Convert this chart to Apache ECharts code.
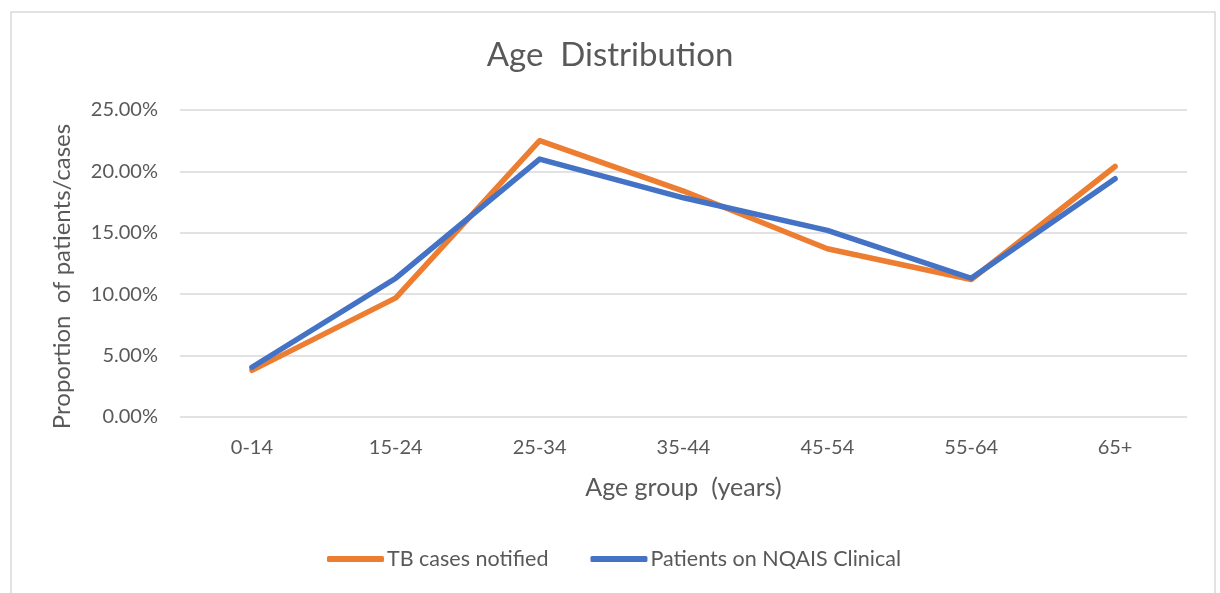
<!DOCTYPE html>
<html>
<head>
<meta charset="utf-8">
<script src="https://cdn.jsdelivr.net/npm/echarts@6/dist/echarts.min.js"></script>
<style>
  html, body { margin: 0; padding: 0; background: #fff; }
  #ageChart { width: 1220px; height: 593px; }
</style>
</head>
<body>
<div id="ageChart"></div>
<script>
  // 年龄组
  var ageGroups = ['0-14', '15-24', '25-34', '35-44', '45-54', '55-64', '65+'];
  // 占比 (%)
  var tbCases = [3.8, 9.7, 22.5, 18.4, 13.7, 11.2, 20.4];
  var nqaisPatients = [4.05, 11.3, 21.0, 17.85, 15.2, 11.3, 19.4];
  var yTicks = [0, 5, 10, 15, 20, 25];

  var myChart = echarts.init(document.getElementById('ageChart'));
  var fontName = 'Lato';
  var option = {
    backgroundColor: '#fff',
    animation: false,
    color: ['#ED7D31', '#4472C4'],
    title: {
      text: 'Age  Distribution',
      left: 'center',
      top: 34,
      textStyle: { color: '#595959', fontSize: 33, fontWeight: 'normal', fontFamily: fontName }
    },
    graphic: [{
      type: 'rect',
      shape: { x: 11, y: 12, width: 1204, height: 620 },
      style: { fill: 'none', stroke: '#d9d9d9', lineWidth: 1.5 },
      silent: true
    }],
    legend: {
      data: ['TB cases notified', 'Patients on NQAIS Clinical'],
      bottom: 18,
      left: 322,
      icon: 'roundRect',
      itemWidth: 57,
      itemHeight: 6,
      itemGap: 42,
      textStyle: { color: '#595959', fontSize: 21.5, fontFamily: fontName, padding: [0, 0, 0, -2] }
    },
    grid: { left: 180, right: 33, top: 110, bottom: 176 },
    xAxis: {
      type: 'category',
      data: ageGroups,
      name: 'Age group  (years)',
      nameLocation: 'middle',
      nameGap: 58,
      nameTextStyle: { color: '#595959', fontSize: 25, fontFamily: fontName },
      axisLine: { show: false },
      axisTick: { show: false },
      axisLabel: { color: '#595959', fontSize: 20, fontFamily: fontName, margin: 21 }
    },
    yAxis: {
      type: 'value',
      min: yTicks[0],
      max: yTicks[yTicks.length - 1],
      interval: 5,
      name: 'Proportion  of patients/cases',
      nameLocation: 'middle',
      nameGap: 106,
      nameTextStyle: { color: '#595959', fontSize: 24, fontFamily: fontName, padding: [0, 26, 0, 0] },
      axisLine: { show: false },
      axisTick: { show: false },
      axisLabel: {
        color: '#595959', fontSize: 20, fontFamily: fontName, margin: 22,
        formatter: function (v) { return v.toFixed(2) + '%'; }
      },
      splitLine: { show: true, lineStyle: { color: '#d9d9d9', width: 1.5 } }
    },
    series: [
      {
        name: 'TB cases notified',
        type: 'line',
        data: tbCases,
        symbol: 'none',
        lineStyle: { width: 5.5, cap: 'round', join: 'round' }
      },
      {
        name: 'Patients on NQAIS Clinical',
        type: 'line',
        data: nqaisPatients,
        symbol: 'none',
        lineStyle: { width: 5.5, cap: 'round', join: 'round' }
      }
    ]
  };
  myChart.setOption(option, true);
</script>
</body>
</html>
